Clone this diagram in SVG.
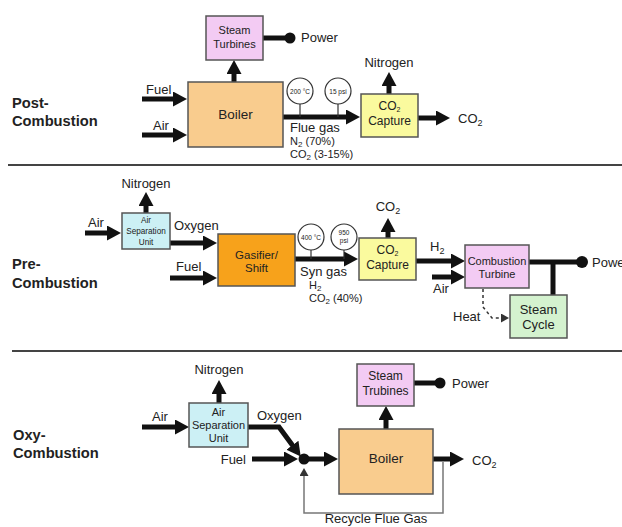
<svg xmlns="http://www.w3.org/2000/svg" width="622" height="527" viewBox="0 0 622 527">
<style>
text{font-family:"Liberation Sans",Arial,sans-serif;fill:#222}
.lbl{font-size:13px}
.sec{font-size:14.7px;font-weight:bold}
.box{stroke:#555;stroke-width:1.5}
.flow{stroke:#111;stroke-width:5;fill:none}
.thin{stroke:#777;stroke-width:1.5;fill:none}
.gauge{fill:#fff;stroke:#333;stroke-width:1.2}
.stem{stroke:#333;stroke-width:1.2}
.gt{font-size:6.5px;text-anchor:middle}
.c{text-anchor:middle}
.sep{stroke:#444;stroke-width:2}
</style>
<defs>
<marker id="ah" markerUnits="userSpaceOnUse" markerWidth="15" markerHeight="15" viewBox="0 0 15 15" refX="1" refY="7.5" orient="auto"><path d="M0,0 L14,7.5 L0,15 z" fill="#111"/></marker>
<marker id="ahs" markerUnits="userSpaceOnUse" markerWidth="9" markerHeight="9" viewBox="0 0 9 9" refX="1" refY="4.5" orient="auto"><path d="M0,0 L8,4.5 L0,9 z" fill="#333"/></marker>
</defs>
<rect width="622" height="527" fill="#fff"/>

<g id="labels">
<text class="sec" x="12" y="108">Post-</text>
<text class="sec" x="12" y="126">Combustion</text>
<text class="sec" x="12" y="269">Pre-</text>
<text class="sec" x="12" y="288">Combustion</text>
<text class="sec" x="13" y="440">Oxy-</text>
<text class="sec" x="13" y="458">Combustion</text>
<line class="sep" x1="8" y1="165" x2="622" y2="165"/>
<line class="sep" x1="12" y1="351" x2="622" y2="351"/>
</g>

<g id="connectors">
<line class="flow" x1="142" y1="99" x2="174" y2="99" marker-end="url(#ah)"/>
<line class="flow" x1="142" y1="135" x2="174" y2="135" marker-end="url(#ah)"/>
<line class="flow" x1="234" y1="82" x2="234" y2="73" marker-end="url(#ah)"/>
<line class="flow" x1="263" y1="38" x2="288" y2="38"/>
<circle cx="290" cy="38" r="5.5" fill="#111"/>
<line class="flow" x1="283" y1="117" x2="347" y2="117" marker-end="url(#ah)"/>
<line class="flow" x1="389" y1="94" x2="389" y2="85" marker-end="url(#ah)"/>
<line class="flow" x1="418" y1="118" x2="437" y2="118" marker-end="url(#ah)"/>
<line class="flow" x1="85" y1="233" x2="108" y2="233" marker-end="url(#ah)"/>
<line class="flow" x1="146" y1="213" x2="146" y2="205" marker-end="url(#ah)"/>
<line class="flow" x1="170" y1="243" x2="204" y2="243" marker-end="url(#ah)"/>
<line class="flow" x1="170" y1="278" x2="204" y2="278" marker-end="url(#ah)"/>
<line class="flow" x1="295" y1="259" x2="345" y2="259" marker-end="url(#ah)"/>
<line class="flow" x1="388" y1="238" x2="388" y2="231" marker-end="url(#ah)"/>
<line class="flow" x1="416" y1="261" x2="452" y2="261" marker-end="url(#ah)"/>
<line class="flow" x1="432" y1="277" x2="452" y2="277" marker-end="url(#ah)"/>
<line class="flow" x1="529" y1="262" x2="578" y2="262"/>
<circle cx="582" cy="262" r="6" fill="#111"/>
<line class="flow" x1="553" y1="262" x2="553" y2="295"/>
<path d="M483,289 L483,307 L492,318 L502,318" fill="none" stroke="#333" stroke-width="1.5" stroke-dasharray="3,3" marker-end="url(#ahs)"/>
<line class="flow" x1="142" y1="427" x2="176" y2="427" marker-end="url(#ah)"/>
<line class="flow" x1="219" y1="403" x2="219" y2="393" marker-end="url(#ah)"/>
<path class="flow" d="M248,427 L279,427 L293,446" marker-end="url(#ah)"/>
<line class="flow" x1="252" y1="459" x2="285" y2="459" marker-end="url(#ah)"/>
<circle cx="304" cy="459" r="5.5" fill="#111"/>
<line class="flow" x1="304" y1="459" x2="325" y2="459" marker-end="url(#ah)"/>
<line class="flow" x1="386" y1="429" x2="386" y2="419" marker-end="url(#ah)"/>
<line class="flow" x1="414" y1="383" x2="437" y2="383"/>
<circle cx="440" cy="383" r="5.5" fill="#111"/>
<line class="flow" x1="433" y1="459" x2="451" y2="459" marker-end="url(#ah)"/>
<path class="thin" d="M443,462 L443,513 L304,513 L304,475" marker-end="url(#ahs)"/>
</g>

<g id="post-boiler">
<rect class="box" x="188" y="82" width="95" height="65" fill="#f9cc8e"/>
<text class="c" x="235.5" y="119" font-size="13.5">Boiler</text>
</g>
<g id="post-steam-turbines">
<rect class="box" x="206" y="16" width="57" height="44" fill="#f3cbf3"/>
<text class="c" x="234.5" y="34" font-size="11">Steam</text>
<text class="c" x="234.5" y="48" font-size="11">Turbines</text>
</g>
<g id="post-co2-capture">
<rect class="box" x="361" y="94" width="57" height="43" fill="#fafa9e"/>
<text class="c" x="389.5" y="110" font-size="12">CO<tspan font-size="7" dy="2">2</tspan></text>
<text class="c" x="389.5" y="125" font-size="12">Capture</text>
</g>
<g id="post-gauges">
<line class="stem" x1="300" y1="104" x2="300" y2="117"/>
<circle class="gauge" cx="300" cy="91" r="13"/>
<text class="gt" x="300" y="93.5">200 °C</text>
<line class="stem" x1="338" y1="104" x2="338" y2="117"/>
<circle class="gauge" cx="338" cy="91" r="13"/>
<text class="gt" x="338" y="93.5">15 psi</text>
</g>
<g id="post-texts">
<text class="lbl" x="146" y="94">Fuel</text>
<text class="lbl" x="153" y="130">Air</text>
<text class="lbl" x="301" y="42">Power</text>
<text class="lbl c" x="389" y="67">Nitrogen</text>
<text x="290" y="132" font-size="13">Flue gas</text>
<text x="290" y="145" font-size="11">N<tspan font-size="8" dy="2">2</tspan><tspan dy="-2"> (70%)</tspan></text>
<text x="290" y="158" font-size="11">CO<tspan font-size="8" dy="2">2</tspan><tspan dy="-2"> (3-15%)</tspan></text>
<text class="lbl" x="458" y="123">CO<tspan font-size="9" dy="3">2</tspan></text>
</g>

<g id="pre-asu">
<rect class="box" x="122" y="213" width="48" height="36" fill="#ccf0f5"/>
<text class="c" x="146" y="223" font-size="8.2">Air</text>
<text class="c" x="146" y="234" font-size="8.2">Separation</text>
<text class="c" x="146" y="245" font-size="8.2">Unit</text>
</g>
<g id="pre-gasifier">
<rect class="box" x="218" y="234" width="77" height="52" fill="#f7a21b"/>
<text class="c" x="256.5" y="259" font-size="11.5">Gasifier/</text>
<text class="c" x="256.5" y="272" font-size="11.5">Shift</text>
</g>
<g id="pre-co2-capture">
<rect class="box" x="359" y="238" width="57" height="42" fill="#fafa9e"/>
<text class="c" x="387.5" y="254" font-size="12">CO<tspan font-size="7" dy="2">2</tspan></text>
<text class="c" x="387.5" y="269" font-size="12">Capture</text>
</g>
<g id="pre-combustion-turbine">
<rect class="box" x="465" y="245" width="64" height="43" fill="#f3cbf3"/>
<text class="c" x="497" y="265" font-size="11">Combustion</text>
<text class="c" x="497" y="278" font-size="11">Turbine</text>
</g>
<g id="pre-steam-cycle">
<rect class="box" x="510" y="295" width="57" height="43" fill="#d4f2cf"/>
<text class="c" x="538.5" y="314" font-size="13">Steam</text>
<text class="c" x="538.5" y="329" font-size="13">Cycle</text>
</g>
<g id="pre-gauges">
<line class="stem" x1="311" y1="250" x2="311" y2="259"/>
<circle class="gauge" cx="311" cy="237" r="13"/>
<text class="gt" x="311" y="239.5">400 °C</text>
<line class="stem" x1="344" y1="250" x2="344" y2="259"/>
<circle class="gauge" cx="344" cy="237" r="13"/>
<text class="gt" x="344" y="235" font-size="7">950</text>
<text class="gt" x="344" y="243" font-size="7">psi</text>
</g>
<g id="pre-texts">
<text class="lbl c" x="146" y="188">Nitrogen</text>
<text class="lbl" x="88" y="227">Air</text>
<text class="lbl" x="174" y="230">Oxygen</text>
<text class="lbl" x="176" y="271">Fuel</text>
<text x="300" y="276" font-size="13">Syn gas</text>
<text x="309" y="289" font-size="11">H<tspan font-size="8" dy="2">2</tspan></text>
<text x="309" y="302" font-size="11">CO<tspan font-size="8" dy="2">2</tspan><tspan dy="-2"> (40%)</tspan></text>
<text class="lbl c" x="388" y="211">CO<tspan font-size="9" dy="3">2</tspan></text>
<text class="lbl" x="430" y="251">H<tspan font-size="9" dy="3">2</tspan></text>
<text class="lbl" x="433" y="293">Air</text>
<text class="lbl" x="592" y="267">Power</text>
<text class="lbl" x="453" y="321">Heat</text>
</g>

<g id="oxy-asu">
<rect class="box" x="189" y="403" width="59" height="44" fill="#ccf0f5"/>
<text class="c" x="218.5" y="416" font-size="11">Air</text>
<text class="c" x="218.5" y="429" font-size="11">Separation</text>
<text class="c" x="218.5" y="442" font-size="11">Unit</text>
</g>
<g id="oxy-boiler">
<rect class="box" x="339" y="429" width="94" height="65" fill="#f9cc8e"/>
<text class="c" x="386" y="463" font-size="13.5">Boiler</text>
</g>
<g id="oxy-steam-trubines">
<rect class="box" x="357" y="364" width="57" height="42" fill="#f3cbf3"/>
<text class="c" x="385.5" y="380" font-size="12">Steam</text>
<text class="c" x="385.5" y="395" font-size="12">Trubines</text>
</g>
<g id="oxy-texts">
<text class="lbl c" x="219" y="374">Nitrogen</text>
<text class="lbl" x="152" y="421">Air</text>
<text class="lbl" x="257" y="420">Oxygen</text>
<text class="lbl" x="246" y="464" text-anchor="end">Fuel</text>
<text class="lbl" x="452" y="388">Power</text>
<text class="lbl" x="472" y="465">CO<tspan font-size="9" dy="3">2</tspan></text>
<text class="c" x="376" y="523" font-size="13">Recycle Flue Gas</text>
</g>
</svg>
